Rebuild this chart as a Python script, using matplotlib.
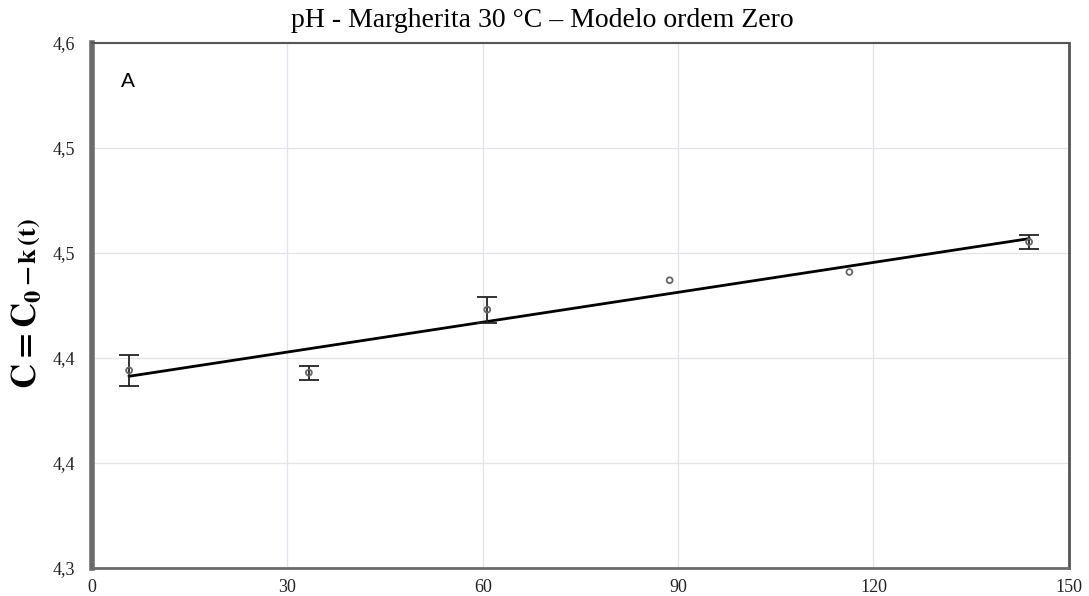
import matplotlib
matplotlib.use("Agg")
import matplotlib.pyplot as plt

# ---- data ----
time_days = [5.7, 33.3, 60.7, 88.7, 116.3, 143.9]
ph_values = [4.4129, 4.4116, 4.4476, 4.4644, 4.4691, 4.4863]
ph_err = [0.0087, 0.0040, 0.0074, 0.0, 0.0, 0.0042]
fit_intercept = 4.4063
fit_slope = 0.000569
fit_x = [5.7, 143.9]

xticks = [0, 30, 60, 90, 120, 150]
xtick_labels = ["0", "30", "60", "90", "120", "150"]
yticks = [4.30, 4.36, 4.42, 4.48, 4.54, 4.60]
ytick_labels = ["4,3", "4,4", "4,4", "4,5", "4,5", "4,6"]

title = "pH - Margherita 30 °C – Modelo ordem Zero"
ylabel_main = r"$\mathbf{C = C_0}$"
ylabel_rest = r"$\mathbf{-\,k\,(t)}$"
panel_label = "A"

plt.rcParams["mathtext.fontset"] = "stix"
serif = ["Liberation Serif", "DejaVu Serif"]

fig = plt.figure(figsize=(10.89, 5.96), dpi=100)
ax = fig.add_axes([0.0845, 0.047, 0.897, 0.881])

ax.set_xlim(0, 150)
ax.set_ylim(4.30, 4.60)
ax.set_xticks(xticks)
ax.set_xticklabels(xtick_labels, family=serif, fontsize=13, color="#222222")
ax.set_yticks(yticks)
ax.set_yticklabels(ytick_labels, family=serif, fontsize=13, color="#222222")
ax.tick_params(axis="both", length=0)
ax.tick_params(axis="y", pad=12)
ax.tick_params(axis="x", pad=8)

ax.grid(True, color="#e0e4ec", linewidth=0.9)
ax.set_axisbelow(True)

ax.spines["left"].set_linewidth(4)
ax.spines["left"].set_color("#6b6b6b")
ax.spines["bottom"].set_linewidth(2)
ax.spines["bottom"].set_color("#6b6b6b")
ax.spines["top"].set_linewidth(1.5)
ax.spines["top"].set_color("#555555")
ax.spines["right"].set_linewidth(2)
ax.spines["right"].set_color("#555555")

# fitted line
fit_y = [fit_intercept + fit_slope * x for x in fit_x]
ax.plot(fit_x, fit_y, color="black", linewidth=2, zorder=3)

# error bars (only where an error is shown)
ex = [x for x, e in zip(time_days, ph_err) if e > 0]
ey = [y for y, e in zip(ph_values, ph_err) if e > 0]
ee = [e for e in ph_err if e > 0]
ax.errorbar(ex, ey, yerr=ee, fmt="none", ecolor="#222222",
            elinewidth=1.3, capsize=7.5, capthick=1.3, zorder=4)
ax.scatter(time_days, ph_values, s=18, facecolors="none", edgecolors="#666666",
           linewidths=1.3, zorder=5)

ax.text(0.03, 0.945, panel_label, transform=ax.transAxes, fontsize=15,
        family=["Liberation Sans", "DejaVu Sans"], va="top", ha="left")

fig.text(0.498, 0.966, title, family=serif, fontsize=20, ha="center", va="center")
fig.text(0.024, 0.432, ylabel_main, rotation=90, fontsize=25, ha="center", va="center")
fig.text(0.027, 0.578, ylabel_rest, rotation=90, fontsize=19, ha="center", va="center")

fig.savefig("out.png", dpi=100)
